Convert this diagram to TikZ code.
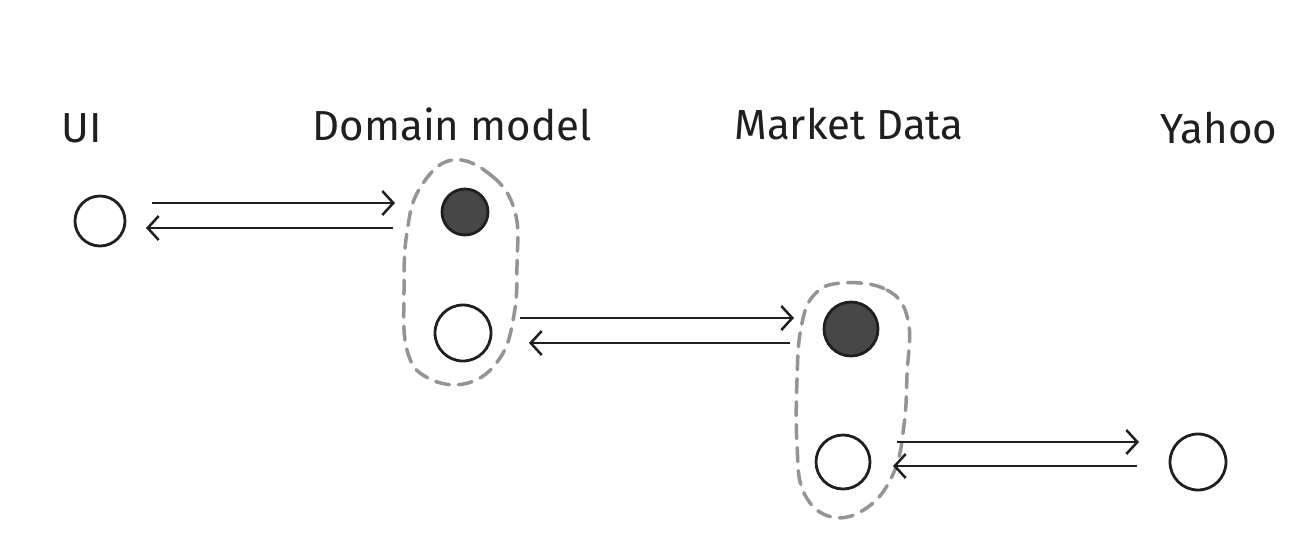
\documentclass[tikz,border=0pt]{standalone}
\usepackage{fontspec}
\setmainfont{Fira Sans}
\usetikzlibrary{arrows.meta}
\begin{document}
\begin{tikzpicture}[x=1pt,y=-1pt,
  opennode/.style={circle,draw=black!88,line width=2.8pt,minimum size=#1,inner sep=0pt},
  fillnode/.style={circle,draw=black!88,fill=black!72,line width=2.8pt,minimum size=#1,inner sep=0pt},
  lbl/.style={font=\fontsize{42}{46}\selectfont,text=black!88},
  arr/.style={draw=black!88,line width=2.5pt,-{Straight Barb[length=11pt,width=24pt,line width=2.5pt]}},
  blob/.style={draw=black!42,line width=3.5pt,dash pattern=on 14pt off 9pt,line cap=round}]
\useasboundingbox (0,0) rectangle (1300,550);
% labels
\node[lbl] (lui) at (82,128) {UI};
\node[lbl] (ldm) at (452,124) {Domain model};
\node[lbl] (lmd) at (849,124) {Market Data};
\node[lbl] (lya) at (1219,128) {Yahoo};
% nodes
\node[opennode=50pt] (ui) at (100,221) {};
\node[fillnode=46pt] (dm1) at (465,212) {};
\node[opennode=56pt] (dm2) at (463,333) {};
\node[fillnode=54pt] (md1) at (851,329) {};
\node[opennode=54pt] (md2) at (843,462) {};
\node[opennode=56pt] (ya) at (1198,462) {};
% grouping outlines
\draw[blob] plot[smooth cycle,tension=0.7] coordinates {(452,160) (492,176) (515,212) (517,265) (514,315) (500,358) (468,383) (428,378) (407,350) (404,290) (407,232) (420,188)};
\draw[blob] plot[smooth cycle,tension=0.7] coordinates {(842,283) (887,290) (908,320) (907,375) (904,425) (894,472) (868,507) (832,517) (804,493) (797,445) (797,380) (801,328) (814,295)};
% connector end points
\coordinate (a1s) at (152,203); \coordinate (a1e) at (395,203);
\coordinate (b1s) at (393,228); \coordinate (b1e) at (146,228);
\coordinate (a2s) at (520,318); \coordinate (a2e) at (794,318);
\coordinate (b2s) at (790,343); \coordinate (b2e) at (529,343);
\coordinate (a3s) at (897,442); \coordinate (a3e) at (1139,442);
\coordinate (b3s) at (1137,466); \coordinate (b3e) at (893,466);
% connectors
\draw[arr] (a1s) -- (a1e);
\draw[arr] (b1s) -- (b1e);
\draw[arr] (a2s) -- (a2e);
\draw[arr] (b2s) -- (b2e);
\draw[arr] (a3s) -- (a3e);
\draw[arr] (b3s) -- (b3e);
\end{tikzpicture}
\end{document}
